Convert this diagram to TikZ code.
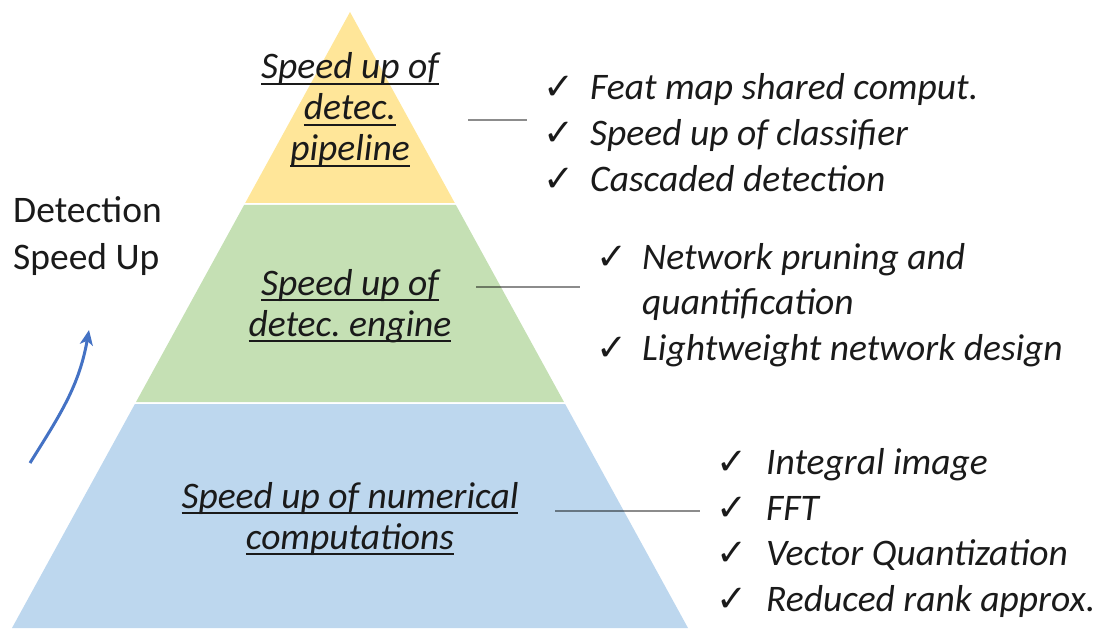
\documentclass[tikz,border=0pt]{standalone}
\usepackage{fontspec}
\setmainfont{Carlito}
\newfontfamily\symfont{DejaVu Sans}
\usetikzlibrary{arrows.meta}
\frenchspacing

\definecolor{tierY}{HTML}{FFE699}
\definecolor{tierG}{HTML}{C5E0B4}
\definecolor{tierB}{HTML}{BDD7EE}
\definecolor{arrowblue}{HTML}{4472C4}
\definecolor{ink}{HTML}{1A1A1A}

% underline that sits just under the baseline, crossing descenders
\newcommand\uln[1]{\setbox0\hbox{#1}\rlap{\rule[-0.15em]{\wd0}{0.055em}}\box0}

\tikzset{
  tierlabel/.style={inner sep=0pt, align=center, text=ink,
    font=\fontsize{37.5}{41}\selectfont\itshape},
  sidelabel/.style={inner sep=0pt, align=left, text=ink,
    font=\fontsize{37.5}{47}\selectfont},
  tick/.style={inner sep=0pt, anchor=base west, text=ink,
    font=\fontsize{37}{37}\selectfont\symfont},
  item/.style={inner sep=0pt, anchor=base west, text=ink,
    font=\fontsize{37.5}{47}\selectfont\itshape},
  leader/.style={draw=black, draw opacity=0.45, line width=2pt},
  rise/.style={draw=arrowblue, line width=3pt,
    -{Stealth[length=15pt,width=13pt,inset=4pt]}}
}

\begin{document}
\begin{tikzpicture}[x=1pt,y=-1pt]
\useasboundingbox (0,0) rectangle (1105,631);

% three tiers of the pyramid
\fill[tierY] (350,12) -- (454.8,203) -- (245.2,203) -- cycle;
\fill[tierG] (244.1,205) -- (455.9,205) -- (564.0,402) -- (136.0,402) -- cycle;
\fill[tierB] (134.9,404) -- (565.1,404) -- (688,628) -- (12,628) -- cycle;

% tier labels
\node[tierlabel] (top) at (350,110) {\uln{Speed up of}\\\uln{detec.}\\\uln{pipeline}};
\node[tierlabel] (mid) at (350,306) {\uln{Speed up of}\\\uln{detec. engine}};
\node[tierlabel] (low) at (350,519) {\uln{Speed up of numerical}\\\uln{computations}};

% side caption and arrow
\node[sidelabel, anchor=north west] (cap) at (13,196) {Detection\\Speed Up};
\coordinate (arrS) at (30,463);
\coordinate (arrE) at (89,330);
\draw[rise] (arrS) to[out=58,in=-100] (arrE);

% technique lists
\foreach \n/\y/\txt in {a1/100/Feat map shared comput., a2/146/Speed up of classifier, a3/192/Cascaded detection}{
  \node[tick] (c\n) at (543,\y) {✓};
  \node[item] (t\n) at (590,\y) {\txt};
}
\foreach \n/\y/\txt in {b1/269/Network pruning and, b3/360/Lightweight network design}{
  \node[tick] (c\n) at (596,\y) {✓};
  \node[item] (t\n) at (642,\y) {\txt};
}
\node[item] (tb2) at (642,314) {quantification};
\foreach \n/\y/\txt in {d1/474/Integral image, d2/520/FFT, d3/565/Vector Quantization, d4/611/Reduced rank approx.}{
  \node[tick] (c\n) at (716,\y) {✓};
  \node[item] (t\n) at (766,\y) {\txt};
}

% leader lines from tiers to their lists
\coordinate (l1a) at (468,120); \coordinate (l1b) at (527,120);
\coordinate (l2a) at (476,287); \coordinate (l2b) at (580,287);
\coordinate (l3a) at (555,511); \coordinate (l3b) at (700,511);
\draw[leader] (l1a) -- (l1b);
\draw[leader] (l2a) -- (l2b);
\draw[leader] (l3a) -- (l3b);
\end{tikzpicture}
\end{document}
